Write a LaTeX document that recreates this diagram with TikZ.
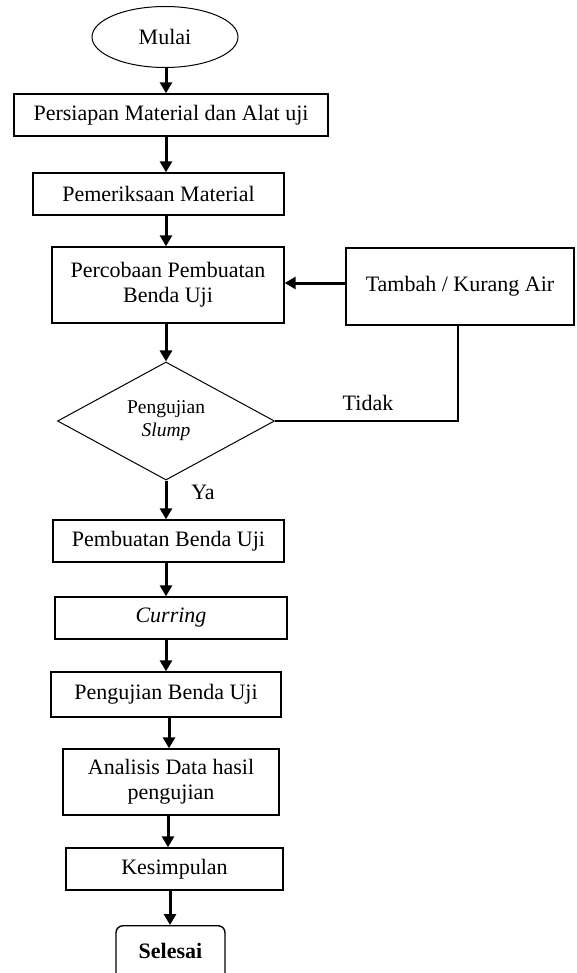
\documentclass[tikz,border=0pt]{standalone}
\usepackage{fontspec}
\setmainfont{Liberation Serif}
\usetikzlibrary{shapes.geometric,arrows.meta}
\begin{document}
\begin{tikzpicture}[x=1pt,y=-1pt,
  every node/.style={font=\fontsize{22}{25}\selectfont},
  box/.style={draw,line width=1.4pt,rectangle,inner sep=0pt,align=center},
  arr/.style={line width=3pt,-{Triangle[width=12pt,length=11pt]}},
  thinline/.style={line width=1.2pt}]
\useasboundingbox (0,0) rectangle (576,973);
\coordinate (col) at (166,0);
\node[draw,ellipse,line width=1pt,minimum width=146pt,minimum height=61pt,inner sep=0pt] (mulai) at (165,37) {Mulai};
\node[box,minimum width=314pt,minimum height=42pt] (persiapan) at (171,115) {Persiapan Material dan Alat uji};
\node[box,minimum width=251pt,minimum height=42pt] (pemeriksaan) at (158.5,194) {Pemeriksaan Material};
\node[box,minimum width=232pt,minimum height=76pt] (percobaan) at (168,285) {Percobaan Pembuatan\\Benda Uji};
\node[box,minimum width=228pt,minimum height=77pt] (tambah) at (460,286.5) {Tambah / Kurang Air};
\node[draw,diamond,line width=1pt,minimum width=217pt,minimum height=118pt,inner sep=0pt,align=center,font=\fontsize{19.5}{23}\selectfont] (slump) at (166,421) {Pengujian\\\textit{Slump}};
\node[box,minimum width=231pt,minimum height=42pt] (pembuatan) at (168.5,541) {Pembuatan Benda Uji};
\node[box,minimum width=232pt,minimum height=42pt] (curring) at (171,618) {\textit{Curring}};
\node[box,minimum width=230pt,minimum height=45pt] (pengujian) at (166,694.5) {Pengujian Benda Uji};
\node[box,minimum width=216pt,minimum height=66pt] (analisis) at (171,782) {Analisis Data hasil\\pengujian};
\node[box,minimum width=217pt,minimum height=42pt] (kesimpulan) at (174.5,869) {Kesimpulan};
\node[box,rounded corners=7pt,minimum width=109pt,minimum height=60pt,anchor=north,font=\fontsize{22}{25}\selectfont\bfseries] (selesai) at (170.5,925) {\raisebox{10pt}{Selesai}};
\coordinate (tjoin) at (458,421);
\draw[arr] (mulai.south -| col) -- (persiapan.north -| col);
\draw[arr] (persiapan.south -| col) -- (pemeriksaan.north -| col);
\draw[arr] (pemeriksaan.south -| col) -- (percobaan.north -| col);
\draw[arr] (percobaan.south -| col) -- (slump.north);
\draw[arr] (tambah.west |- 0,283) -- (percobaan.east |- 0,283);
\draw[thinline] (slump.east) -- (tjoin) -- (tjoin |- tambah.south);
\draw[arr] (slump.south) -- (pembuatan.north -| col);
\draw[arr] (pembuatan.south -| col) -- (curring.north -| col);
\draw[arr] (curring.south -| col) -- (pengujian.north -| col);
\draw[arr] (pengujian.south -| 169,0) -- (analisis.north -| 169,0);
\draw[arr] (analisis.south -| 168,0) -- (kesimpulan.north -| 168,0);
\draw[arr] (kesimpulan.south -| 170,0) -- (selesai.north -| 170,0);
\node (tidak) at (368,403) {Tidak};
\node (ya) at (203,492) {Ya};
\end{tikzpicture}
\end{document}
